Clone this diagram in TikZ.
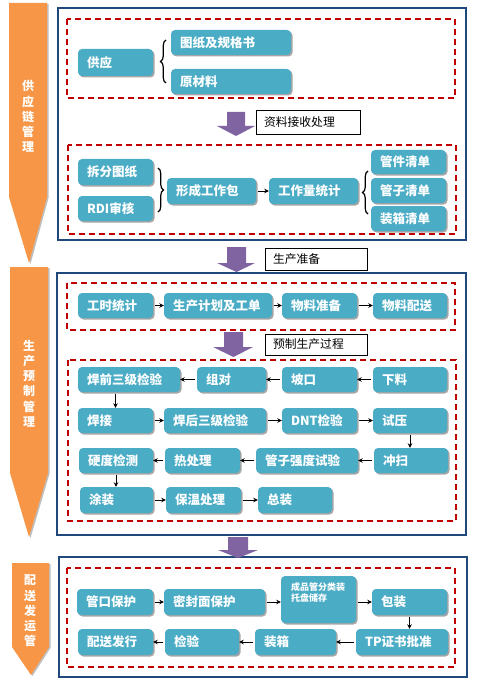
\documentclass[tikz,border=0pt]{standalone}
\usepackage{fontspec}
\newfontfamily\cjk{Noto Sans CJK SC}
\usetikzlibrary{arrows.meta,shadows,decorations.pathreplacing,calc}
\definecolor{tealb}{RGB}{75,172,198}
\definecolor{navyf}{RGB}{31,73,125}
\definecolor{redd}{RGB}{192,0,0}
\definecolor{orng}{RGB}{247,150,70}
\definecolor{purp}{RGB}{128,100,162}
\tikzset{
 tb/.style={fill=tealb, rounded corners=4pt, text=white, font=\cjk\bfseries\fontsize{12.5}{14}\selectfont, drop shadow={shadow xshift=1.5pt,shadow yshift=-1.5pt,fill=black,opacity=0.35}, inner xsep=9pt, inner ysep=0pt, align=left},
 lbl/.style={draw=black, line width=0.8pt, fill=white, font=\cjk\fontsize{11.8}{14}\selectfont, inner xsep=8pt, inner ysep=0pt, align=left},
 frame/.style={draw=navyf, line width=2pt},
 dbox/.style={draw=redd, line width=2pt, dash pattern=on 6pt off 4pt},
 conn/.style={-{Stealth[length=4.5pt,width=4.5pt]}, line width=0.9pt, shorten <=1.5pt},
 brc/.style={decorate, decoration={brace, amplitude=5.5pt}, line width=1.2pt},
 oarrow/.style={fill=orng, drop shadow={shadow xshift=1.5pt, shadow yshift=-1pt, fill=black, opacity=0.25}},
 parrow/.style={fill=purp},
 vtext/.style={text=white, font=\cjk\bfseries\fontsize{12}{15.2}\selectfont, align=center, inner sep=0pt},
 smalltext/.style={text=white, font=\cjk\bfseries\fontsize{9}{11}\selectfont, align=left, inner sep=0pt, anchor=north west},
}
\newcommand\tbx[6]{%
 \pgfmathsetmacro\tbw{#4-#2}\pgfmathsetmacro\tbh{#5-#3}\pgfmathsetmacro\tbtw{#4-#2-18}%
 \pgfmathsetmacro\tbcx{(#2+#4)/2}\pgfmathsetmacro\tbcy{(#3+#5)/2}%
 \node[tb, minimum width=\tbw pt, minimum height=\tbh pt, text width=\tbtw pt] (#1) at (\tbcx,\tbcy) {#6};}
\begin{document}
\begin{tikzpicture}[x=1pt,y=-1pt]
\useasboundingbox (0,0) rectangle (480,687);
% frames
\draw[frame] (58,8) rectangle (466,240);
\draw[frame] (57,273) rectangle (466,535);
\draw[frame] (59,557) rectangle (467,677);
% dashed boxes
\draw[dbox] (67,19) rectangle (455,98);
\draw[dbox] (68,145) rectangle (456,234);
\draw[dbox] (67,283) rectangle (455,330);
\draw[dbox] (68,360) rectangle (456,521);
\draw[dbox] (67,568) rectangle (455,667);
% orange arrows
\path[oarrow] (9,3) -- (47,3) -- (47,197) -- (29,263) -- (9,197) -- cycle;
\path[oarrow] (10,267) -- (48,267) -- (48,473) -- (29,537) -- (10,473) -- cycle;
\path[oarrow] (12,563) -- (49,563) -- (49,647) -- (31,675) -- (12,647) -- cycle;
\node[vtext] (v1) at (28,116.5) {供\\应\\链\\管\\理};
\node[vtext] (v2) at (29,383.5) {生\\产\\预\\制\\管\\理};
\node[vtext] (v3) at (30,611) {配\\送\\发\\运\\管};
% purple arrows
\path[parrow] (227,112) -- (245,112) -- (245,126) -- (255,126) -- (236,136) -- (217,126) -- (227,126) -- cycle;
\path[parrow] (227,247) -- (246,247) -- (246,263) -- (255,263) -- (236.5,272) -- (217,263) -- (227,263) -- cycle;
\path[parrow] (224,332) -- (243,332) -- (243,347) -- (253,347) -- (233.5,357) -- (213,347) -- (224,347) -- cycle;
\path[parrow] (228,537) -- (248,537) -- (248,550) -- (258,550) -- (238,558) -- (218,550) -- (228,550) -- cycle;
% labels
\node[lbl, minimum width=104pt, minimum height=24pt, text width=88pt] (l1) at (308,122) {资料接收处理};
\node[lbl, minimum width=102pt, minimum height=22pt, text width=86pt] (l2) at (316,259) {生产准备};
\node[lbl, minimum width=102pt, minimum height=21pt, text width=86pt] (l3) at (316,344.5) {预制生产过程};
% section 1
\tbx{gy}{78}{49}{153}{76}{供应}
\tbx{tz}{171}{30}{291}{55}{图纸及规格书}
\tbx{ycl}{171}{69}{291}{94}{原材料}
\draw[brc] (166,83) -- (166,40);
% section 2
\tbx{cf}{78}{159}{153}{185}{拆分图纸}
\tbx{rdi}{78}{196}{153}{221}{RDI审核}
\tbx{xc}{167}{178}{256}{204}{形成工作包}
\tbx{gzl}{269}{178}{358}{204}{工作量统计}
\tbx{gj}{371}{150}{446}{174}{管件清单}
\tbx{gz}{371}{178}{446}{203}{管子清单}
\tbx{zx}{371}{206}{446}{231}{装箱清单}
\draw[brc] (158,168) -- (158,212);
\draw[brc] (368,214) -- (368,171);
\draw[conn] (xc) -- (gzl);
% section 3
\tbx{gs}{78}{293}{153}{318}{工时统计}
\tbx{sc}{164}{293}{272}{318}{生产计划及工单}
\tbx{wz}{282}{293}{357}{318}{物料准备}
\tbx{wp}{373}{293}{447}{318}{物料配送}
\draw[conn] (gs) -- (sc);
\draw[conn] (sc) -- (wz);
\draw[conn] (wz) -- (wp);
% section 4
\tbx{hq}{78}{367}{180}{392}{焊前三级检验}
\tbx{zd}{197}{367}{266}{392}{组对}
\tbx{pk}{282}{367}{357}{392}{坡口}
\tbx{xl}{373}{367}{447}{392}{下料}
\tbx{hj}{78}{408}{153}{433}{焊接}
\tbx{hh}{164}{408}{266}{433}{焊后三级检验}
\tbx{dnt}{282}{408}{357}{433}{DNT检验}
\tbx{sy}{373}{408}{447}{433}{试压}
\tbx{yd}{79}{448}{153}{473}{硬度检测}
\tbx{rcl}{165}{448}{240}{473}{热处理}
\tbx{qd}{256}{448}{358}{473}{管子强度试验}
\tbx{cs}{374}{448}{448}{473}{冲扫}
\tbx{tzh}{80}{487}{153}{513}{涂装}
\tbx{bw}{166}{487}{241}{513}{保温处理}
\tbx{zz}{258}{487}{332}{513}{总装}
\draw[conn] (xl) -- (pk);
\draw[conn] (pk) -- (zd);
\draw[conn] (zd) -- (hq);
\draw[conn] (hq.south -| hj.north) -- (hj.north);
\draw[conn] (hj) -- (hh);
\draw[conn] (hh) -- (dnt);
\draw[conn] (dnt) -- (sy);
\draw[conn] (sy.south) -- (sy.south |- cs.north);
\draw[conn] (cs) -- (qd);
\draw[conn] (qd) -- (rcl);
\draw[conn] (rcl) -- (yd);
\draw[conn] (yd.south) -- (yd.south |- tzh.north);
\draw[conn] (tzh) -- (bw);
\draw[conn] (bw) -- (zz);
% section 5
\tbx{gk}{77}{589}{153}{615}{管口保护}
\tbx{mf}{164}{589}{265}{615}{密封面保护}
\tbx{cp}{281}{576}{356}{623}{}
\node[smalltext] (cpt) at (291,582) {成品管分类装\\托盘储存};
\tbx{bz}{372}{589}{447}{615}{包装}
\tbx{ps}{78}{629}{153}{655}{配送发行}
\tbx{jy}{165}{629}{239}{655}{检验}
\tbx{zxg}{255}{629}{336}{655}{装箱}
\tbx{tp}{356}{629}{448}{655}{TP证书批准}
\draw[conn] (gk) -- (mf);
\draw[conn] (mf.east) -- (mf.east -| cp.west);
\draw[conn] (cp.east |- bz.west) -- (bz.west);
\draw[conn] (bz.south) -- (bz.south |- tp.north);
\draw[conn] (tp) -- (zxg);
\draw[conn] (zxg) -- (jy);
\draw[conn] (jy) -- (ps);
\end{tikzpicture}
\end{document}
